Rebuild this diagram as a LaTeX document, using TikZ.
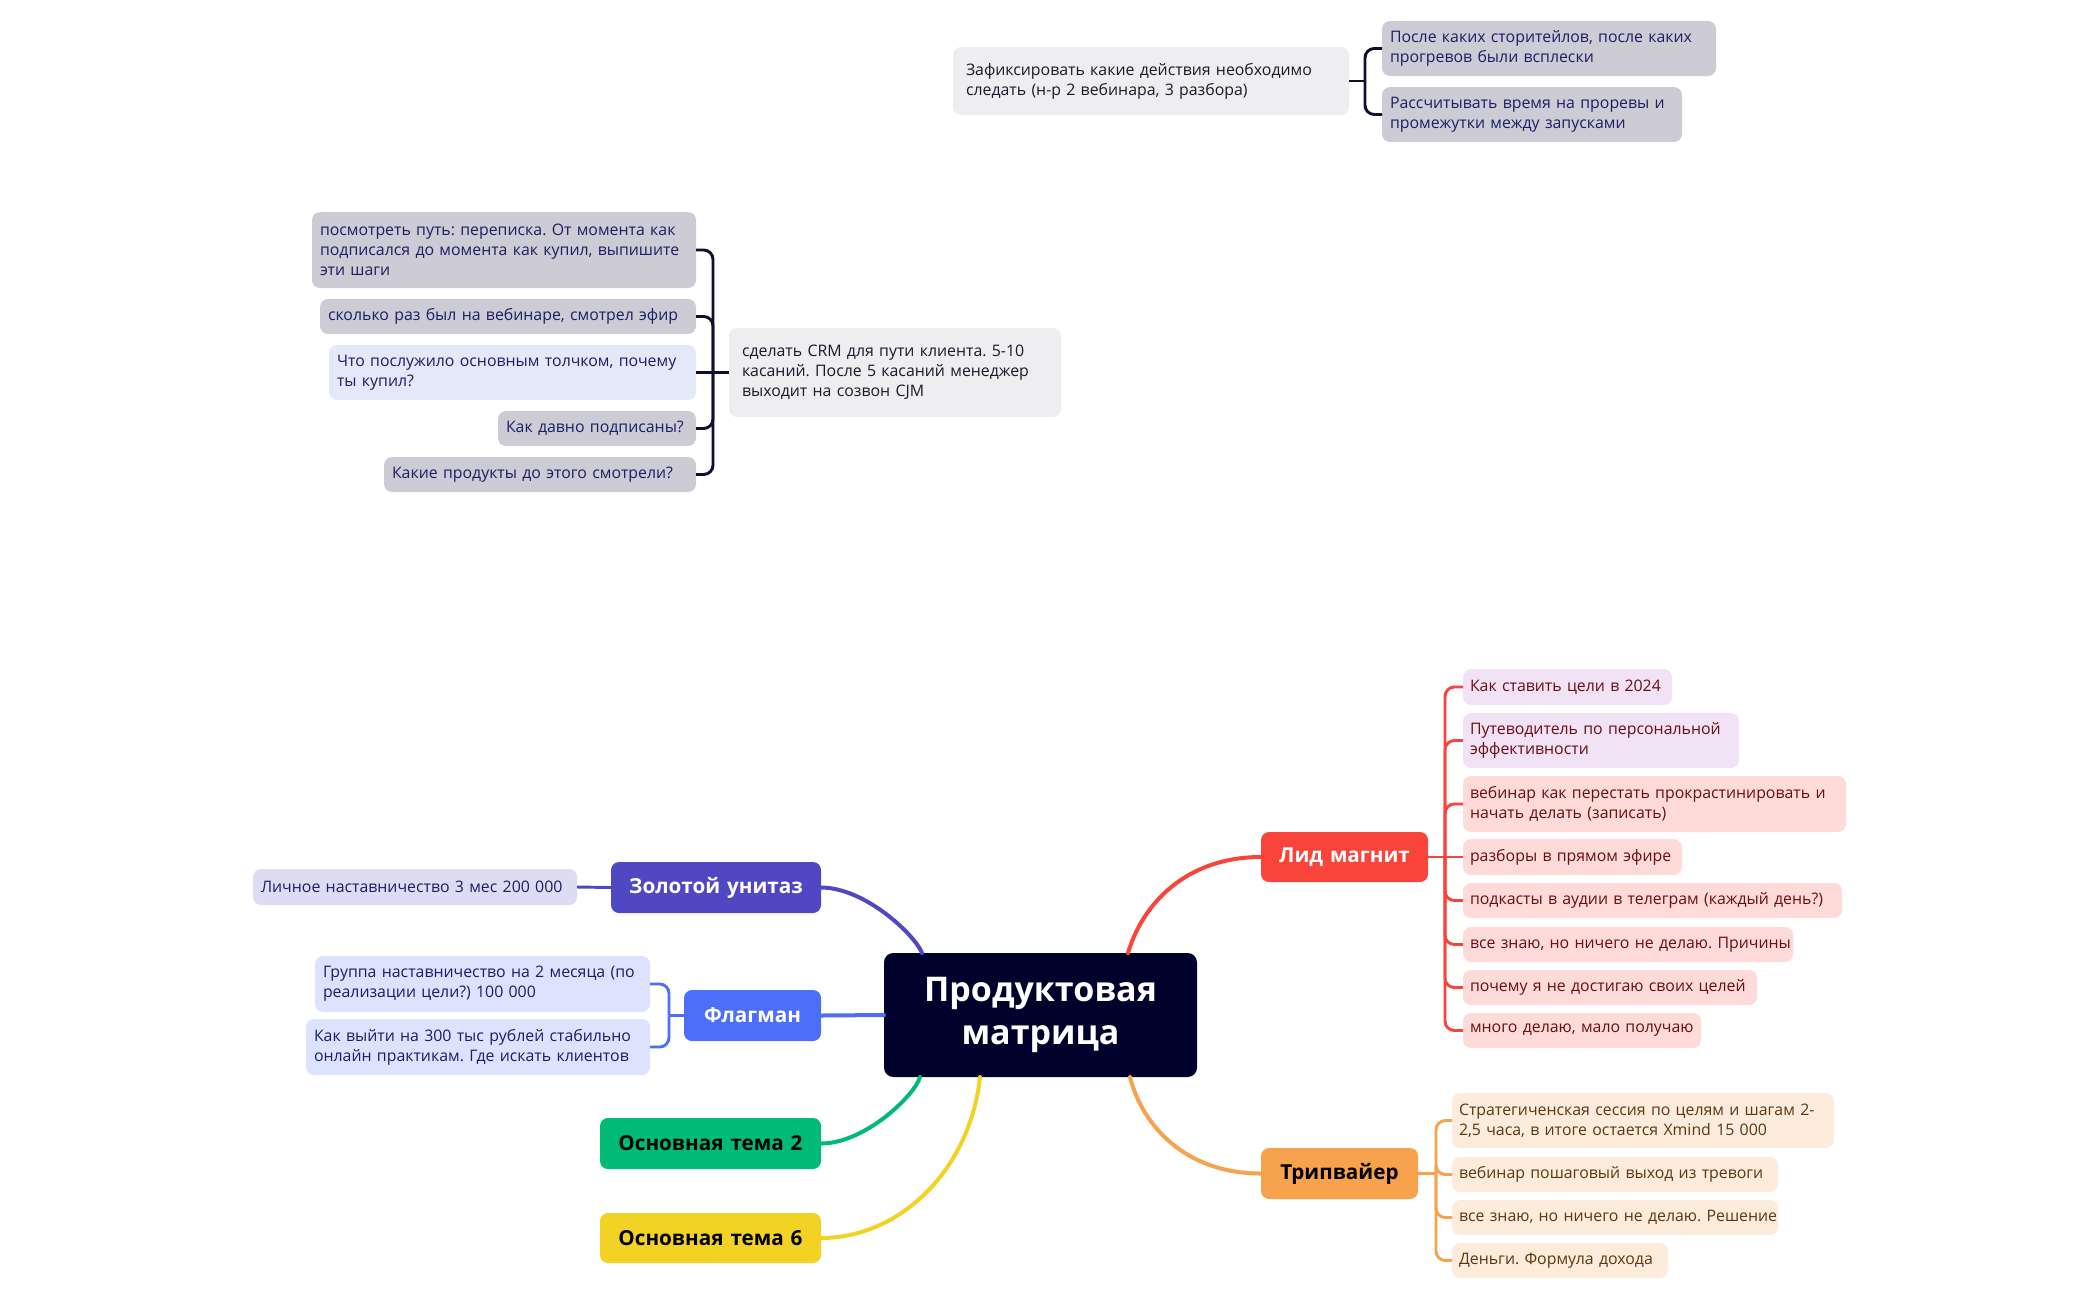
\documentclass[tikz,border=0pt]{standalone}
\usepackage{fontspec}
\setmainfont{Open Sans}
\frenchspacing
\definecolor{cfill}{HTML}{00022B}
\definecolor{zolc}{HTML}{4F48C2}
\definecolor{flagc}{HTML}{4D6EF8}
\definecolor{greenc}{HTML}{00BA77}
\definecolor{yellowc}{HTML}{F2D225}
\definecolor{redc}{HTML}{F9443C}
\definecolor{orangec}{HTML}{F7A24D}
\definecolor{grayp}{HTML}{EEEDF0}
\definecolor{grayc}{HTML}{CDCCD4}
\definecolor{lblue}{HTML}{E5E8F9}
\definecolor{lavz}{HTML}{DDDCF2}
\definecolor{flagsub}{HTML}{DCE3FE}
\definecolor{lidlav}{HTML}{F1E2F6}
\definecolor{lidpink}{HTML}{FEDAD9}
\definecolor{tripsub}{HTML}{FDEBDC}
\definecolor{navyt}{HTML}{1C1D66}
\definecolor{darkt}{HTML}{1A1A2A}
\definecolor{redt}{HTML}{6A0E10}
\definecolor{brownt}{HTML}{5C3812}
\definecolor{brk}{HTML}{0F0F30}
\newcommand{\mmbox}[8]{%
  \pgfmathsetmacro{\mmW}{0.75*(#6-#4)}%
  \pgfmathsetmacro{\mmH}{0.75*(#7-#5)}%
  \pgfmathsetmacro{\mmT}{0.75*(#6-#4-2*#3)}%
  \pgfmathsetmacro{\mmP}{0.75*#3}%
  \node[#2, anchor=north west, inner xsep=\mmP pt, text width=\mmT pt,
        minimum width=\mmW pt, minimum height=\mmH pt] (#1) at (#4,#5) {#8};}
\newcommand{\mmln}[1]{\mbox{#1}}
\tikzset{
  base/.style={rounded corners=6pt, inner ysep=0pt, outer sep=0pt, draw=none},
  sub/.style={base, font=\fontsize{11.9}{15}\selectfont, align=left},
  topic/.style={base, font=\fontsize{15.5}{18}\selectfont\bfseries, align=center},
  maincurve/.style={line width=3pt, line cap=round},
  brline/.style={line width=2.2pt},
}
\begin{document}
\begin{tikzpicture}[x=0.75pt, y=-0.75pt]
\useasboundingbox (0,0) rectangle (2097,1300);

% ---------- top floating topic ----------
\mmbox{fix}{sub, fill=grayp, text=darkt}{13}{953}{47}{1349}{115}{\mmln{Зафиксировать какие действия необходимо}\\\mmln{следать (н-р 2 вебинара, 3 разбора)}}
\mmbox{fixa}{sub, fill=grayc, text=navyt}{8}{1382}{21}{1716}{76}{\mmln{После каких сторитейлов, после каких}\\\mmln{прогревов были всплески}}
\mmbox{fixb}{sub, fill=grayc, text=navyt}{8}{1382}{87}{1682}{142}{\mmln{Рассчитывать время на проревы и}\\\mmln{промежутки между запусками}}
\coordinate (fixJ) at (1365,81);
\draw[brline, brk] (fix.east) -- (fixJ);
\draw[brline, brk, rounded corners=7pt] (fixJ) |- (fixa.west);
\draw[brline, brk, rounded corners=7pt] (fixJ) |- (fixb.west);

% ---------- CRM floating topic ----------
\mmbox{crm}{sub, fill=grayp, text=darkt}{13}{729}{328}{1061}{417}{\mmln{сделать CRM для пути клиента. 5-10}\\\mmln{касаний. После 5 касаний менеджер}\\\mmln{выходит на созвон CJM}}
\mmbox{crma}{sub, fill=grayc, text=navyt}{8}{312}{212}{696}{288}{\mmln{посмотреть путь: переписка. От момента как}\\\mmln{подписался до момента как купил, выпишите}\\\mmln{эти шаги}}
\mmbox{crmb}{sub, fill=grayc, text=navyt}{8}{320}{299}{696}{334}{\mmln{сколько раз был на вебинаре, смотрел эфир}}
\mmbox{crmc}{sub, fill=lblue, text=navyt}{8}{329}{345}{696}{400}{\mmln{Что послужило основным толчком, почему}\\\mmln{ты купил?}}
\mmbox{crmd}{sub, fill=grayc, text=navyt}{8}{498}{411}{696}{446}{\mmln{Как давно подписаны?}}
\mmbox{crme}{sub, fill=grayc, text=navyt}{8}{384}{457}{696}{492}{\mmln{Какие продукты до этого смотрели?}}
\coordinate (crmJ) at (713,372.5);
\draw[brline, brk] (crm.west) -- (crmJ);
\draw[brline, brk, rounded corners=7pt] (crmJ) |- (crma.east);
\draw[brline, brk, rounded corners=7pt] (crmJ) |- (crmb.east);
\draw[brline, brk] (crmJ) -- (crmc.east);
\draw[brline, brk, rounded corners=7pt] (crmJ) |- (crmd.east);
\draw[brline, brk, rounded corners=7pt] (crmJ) |- (crme.east);

% ---------- central topic ----------
\mmbox{center}{topic, fill=cfill, text=white, rounded corners=7pt, font=\fontsize{25.5}{32}\selectfont\bfseries}{8}{884}{953}{1197}{1077}{Продуктовая\\матрица}

% ---------- left main topics ----------
\mmbox{zol}{topic, fill=zolc, text=white}{6}{611}{862}{821}{913}{Золотой унитаз}
\mmbox{zola}{sub, fill=lavz, text=navyt}{8}{253}{869}{577}{905}{\mmln{Личное наставничество 3 мес 200 000}}
\draw[brline, zolc] (zol.west) -- (zola.east);

\mmbox{flag}{topic, fill=flagc, text=white}{6}{684}{990}{821}{1041}{Флагман}
\mmbox{flaga}{sub, fill=flagsub, text=navyt}{8}{315}{956}{650}{1012}{\mmln{Группа наставничество на 2 месяца (по}\\\mmln{реализации цели?) 100 000}}
\mmbox{flagb}{sub, fill=flagsub, text=navyt}{8}{306}{1019}{650}{1075}{\mmln{Как выйти на 300 тыс рублей стабильно}\\\mmln{онлайн практикам. Где искать клиентов}}
\coordinate (flagJ) at (669,1015.5);
\draw[brline, flagc] (flag.west) -- (flagJ);
\draw[brline, flagc, rounded corners=7pt] (flagJ) |- (flaga.east);
\draw[brline, flagc, rounded corners=7pt] (flagJ) |- (flagb.east);

\mmbox{gr}{topic, fill=greenc, text=black}{6}{600}{1118}{821}{1169}{Основная тема 2}
\mmbox{ye}{topic, fill=yellowc, text=black}{6}{600}{1213}{821}{1263}{Основная тема 6}

% ---------- right main topics ----------
\mmbox{lid}{topic, fill=redc, text=white}{6}{1261}{832}{1428}{882}{Лид магнит}
\mmbox{lida}{sub, fill=lidlav, text=redt}{7}{1463}{669}{1672}{705}{\mmln{Как ставить цели в 2024}}
\mmbox{lidb}{sub, fill=lidlav, text=redt}{7}{1463}{713}{1739}{768}{\mmln{Путеводитель по персональной}\\\mmln{эффективности}}
\mmbox{lidc}{sub, fill=lidpink, text=redt}{7}{1463}{776}{1846}{832}{\mmln{вебинар как перестать прокрастинировать и}\\\mmln{начать делать (записать)}}
\mmbox{lidd}{sub, fill=lidpink, text=redt}{7}{1463}{839}{1682}{875}{\mmln{разборы в прямом эфире}}
\mmbox{lide}{sub, fill=lidpink, text=redt}{7}{1463}{883}{1842}{918}{\mmln{подкасты в аудии в телеграм (каждый день?)}}
\mmbox{lidf}{sub, fill=lidpink, text=redt}{7}{1463}{927}{1793}{962}{\mmln{все знаю, но ничего не делаю. Причины}}
\mmbox{lidg}{sub, fill=lidpink, text=redt}{7}{1463}{970}{1757}{1005}{\mmln{почему я не достигаю своих целей}}
\mmbox{lidh}{sub, fill=lidpink, text=redt}{7}{1463}{1013}{1701}{1048}{\mmln{много делаю, мало получаю}}
\coordinate (lidJ) at (1445,857);
\draw[brline, redc] (lid.east) -- (lidJ);
\foreach \c in {lida,lidb,lidc,lide,lidf,lidg,lidh}
  \draw[brline, redc, rounded corners=7pt] (lidJ) |- (\c.west);
\draw[brline, redc] (lidJ) -- (lidd.west);

\mmbox{trip}{topic, fill=orangec, text=black}{6}{1261}{1148}{1418}{1199}{Трипвайер}
\mmbox{tripa}{sub, fill=tripsub, text=brownt}{7}{1452}{1093}{1834}{1148}{\mmln{Стратегиченская сессия по целям и шагам 2-}\\\mmln{2,5 часа, в итоге остается Xmind 15 000}}
\mmbox{tripb}{sub, fill=tripsub, text=brownt}{7}{1452}{1157}{1778}{1192}{\mmln{вебинар пошаговый выход из тревоги}}
\mmbox{tripc}{sub, fill=tripsub, text=brownt}{7}{1452}{1200}{1778}{1235}{\mmln{все знаю, но ничего не делаю. Решение}}
\mmbox{tripd}{sub, fill=tripsub, text=brownt}{7}{1452}{1243}{1668}{1278}{\mmln{Деньги. Формула дохода}}
\coordinate (tripJ) at (1436,1173.5);
\draw[brline, orangec] (trip.east) -- (tripJ);
\foreach \c in {tripa,tripb,tripc,tripd}
  \draw[brline, orangec, rounded corners=7pt] (tripJ) |- (\c.west);

% ---------- main curves ----------
\draw[maincurve, zolc] ([xshift=28.5pt]center.north west) .. controls (915,935) and (865,887.5) .. (zol.east);
\draw[maincurve, flagc] (center.west) -- (flag.east);
\draw[maincurve, greenc] ([xshift=27pt]center.south west) .. controls (915,1095) and (865,1143.5) .. (gr.east);
\draw[maincurve, yellowc] ([xshift=72pt]center.south west) .. controls (970,1170) and (900,1238) .. (ye.east);
\draw[maincurve, redc] ([xshift=183pt]center.north west) .. controls (1142,905) and (1185,857) .. (lid.west);
\draw[maincurve, orangec] ([xshift=184.5pt]center.south west) .. controls (1142,1125) and (1185,1173.5) .. (trip.west);
\end{tikzpicture}
\end{document}
